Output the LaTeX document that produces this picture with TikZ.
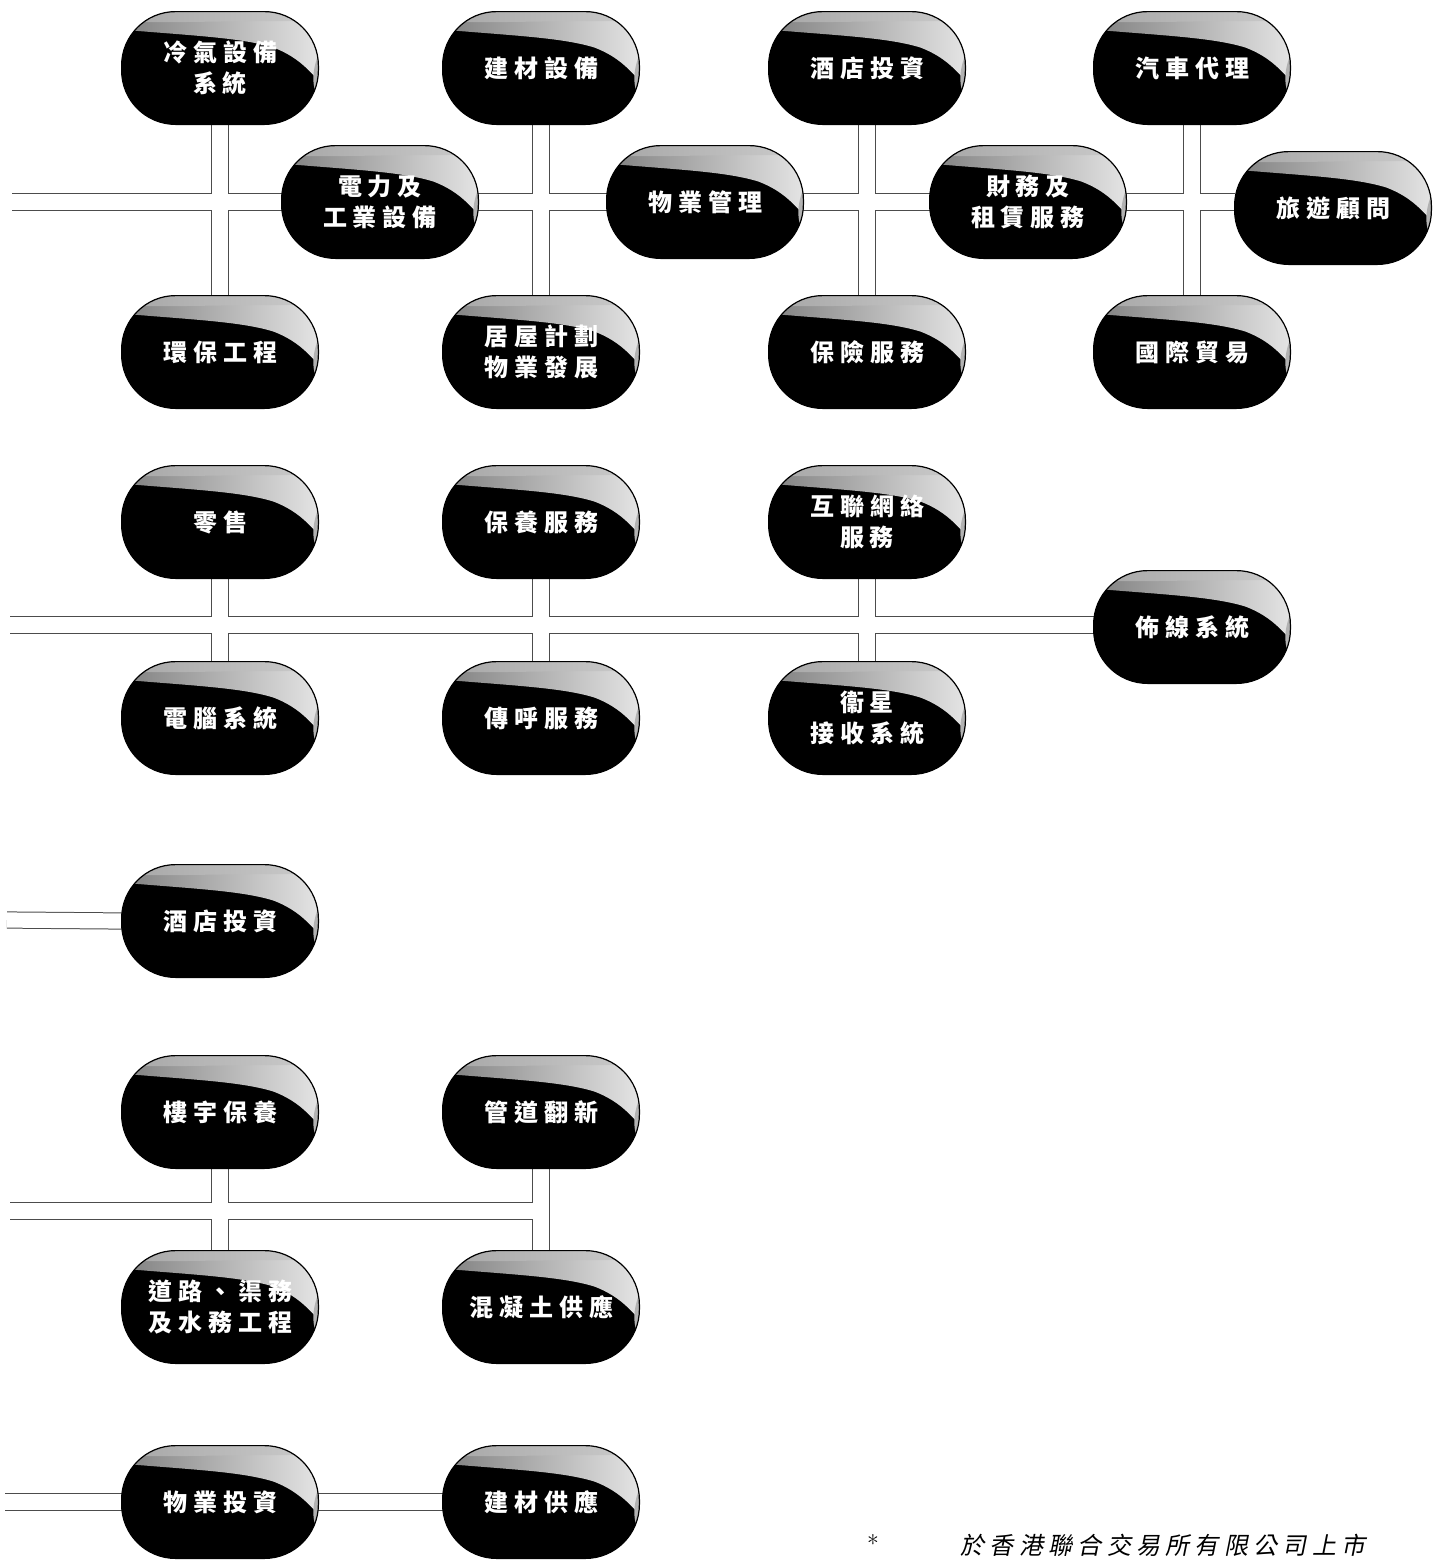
\documentclass[tikz,border=0pt]{standalone}
\usepackage{fontspec}
\newfontfamily\cjk[LetterSpace=25]{Noto Sans CJK TC}
\newfontfamily\cjknote[LetterSpace=22,FakeSlant=0.2]{Noto Sans CJK TC}
\pgfdeclarelayer{bg}
\pgfdeclarelayer{mid}
\pgfsetlayers{bg,mid,main}
\tikzset{
  unit/.style={rectangle, minimum width=98pt, minimum height=56pt,
    inner sep=0pt, text=white, align=center,
    font=\cjk\bfseries\fontsize{12}{15.5}\selectfont},
  pill/.style={rounded corners=27pt},
  pipeout/.style={line width=8.6pt, draw=black!70},
  pipein/.style={line width=7.6pt, draw=white},
  notefont/.style={font=\cjknote\fontsize{12}{14}\selectfont, text=black}
}
\newcommand\allpipes[1]{%
  % group 1
  \draw[#1] (L1) -- (power.west);
  \draw[#1] (power.east) -- (pm.west);
  \draw[#1] (pm.east) -- (fin.west);
  \draw[#1] (fin.east) -- (fin.east -| travel.west);
  \draw[#1] (hvac.south) -- (env.north);
  \draw[#1] (bm.south) -- (hos.north);
  \draw[#1] (hotelA.south) -- (ins.north);
  \draw[#1] (car.south) -- (trade.north);
  % group 2
  \draw[#1] (L2) -- (L2 -| cable.west);
  \draw[#1] (retail.south) -- (comp.north);
  \draw[#1] (maint.south) -- (pager.north);
  \draw[#1] (net.south) -- (sat.north);
  % group 3
  \draw[#1] (L3) -- (hotelB.west);
  % group 4
  \draw[#1] (L4) -- (J4);
  \draw[#1] (bldg.south) -- (road.north);
  \draw[#1] (pipes.south) -- (conc.north);
  % group 5
  \draw[#1] (L5) -- (pinv.west);
  \draw[#1] (pinv.east) -- (bms.west);
}
\begin{document}
\begin{tikzpicture}[x=0.5pt, y=-0.5pt]
\useasboundingbox (0,0) rectangle (1437,1564);
% group 1
\node[unit] (hvac)   at (220,68)   {冷氣設備\\系統};
\node[unit] (bm)     at (541,68)   {建材設備};
\node[unit] (hotelA) at (867,68)   {酒店投資};
\node[unit] (car)    at (1192,68)  {汽車代理};
\node[unit] (power)  at (380,202)  {電力及\\工業設備};
\node[unit] (pm)     at (705,202)  {物業管理};
\node[unit] (fin)    at (1028,202) {財務及\\租賃服務};
\node[unit] (travel) at (1333,208) {旅遊顧問};
\node[unit] (env)    at (220,352)  {環保工程};
\node[unit] (hos)    at (541,352)  {居屋計劃\\物業發展};
\node[unit] (ins)    at (867,352)  {保險服務};
\node[unit] (trade)  at (1192,352) {國際貿易};
\coordinate (L1) at (12,202);
% group 2
\node[unit] (retail) at (220,522)  {零售};
\node[unit] (maint)  at (541,522)  {保養服務};
\node[unit] (net)    at (867,522)  {互聯網絡\\服務};
\node[unit] (cable)  at (1192,627) {佈線系統};
\node[unit] (comp)   at (220,718)  {電腦系統};
\node[unit] (pager)  at (541,718)  {傳呼服務};
\node[unit] (sat)    at (867,718)  {衞星\\接收系統};
\coordinate (L2) at (10,625);
% group 3
\node[unit] (hotelB) at (220,921)  {酒店投資};
\coordinate (L3) at (7,920);
% group 4
\node[unit] (bldg)   at (220,1112) {樓宇保養};
\node[unit] (pipes)  at (541,1112) {管道翻新};
\node[unit] (road)   at (220,1307) {道路、渠務\\及水務工程};
\node[unit] (conc)   at (541,1307) {混凝土供應};
\coordinate (L4) at (10,1211);
\coordinate (J4) at (541,1211);
% group 5
\node[unit] (pinv)   at (220,1502) {物業投資};
\node[unit] (bms)    at (541,1502) {建材供應};
\coordinate (L5) at (5,1502);
% footnote
\node[font=\fontsize{12}{14}\selectfont] (star) at (873,1543) {*};
\node[notefont] (note) at (1163,1545) {於香港聯合交易所有限公司上市};
% pill bodies with highlight
\begin{pgfonlayer}{mid}
\foreach \n in {hvac,bm,hotelA,car,power,pm,fin,travel,env,hos,ins,trade,
                retail,maint,net,cable,comp,pager,sat,hotelB,
                bldg,pipes,road,conc,pinv,bms}{
  \begin{scope}
    \path[pill, clip] (\n.south west) rectangle (\n.north east);
    \fill[black] (\n.south west) rectangle (\n.north east);
    \begin{scope}[shift={(\n.north west)}, x=1pt, y=1pt]
      \shade[left color=black!50, right color=black!10]
        (0,1) -- (100,1) -- (100,-36) .. controls (94,-30) and (89,-23) .. (76,-18)
        .. controls (60,-13) and (35,-12) .. (0,-9) -- cycle;
      \shade[left color=black!35, right color=black!20]
        (0,1) -- (100,1) -- (100,-5) .. controls (60,-4) and (30,-6) .. (0,-5) -- cycle;
      \fill[black!30] (100,-18) .. controls (95,-28) and (94,-38) .. (100,-46) -- cycle;
    \end{scope}
  \end{scope}
  \draw[pill, line width=0.6pt, black] (\n.south west) rectangle (\n.north east);
}
\end{pgfonlayer}
% pipes
\begin{pgfonlayer}{bg}
\allpipes{pipeout}
\allpipes{pipein}
\end{pgfonlayer}
\end{tikzpicture}
\end{document}
